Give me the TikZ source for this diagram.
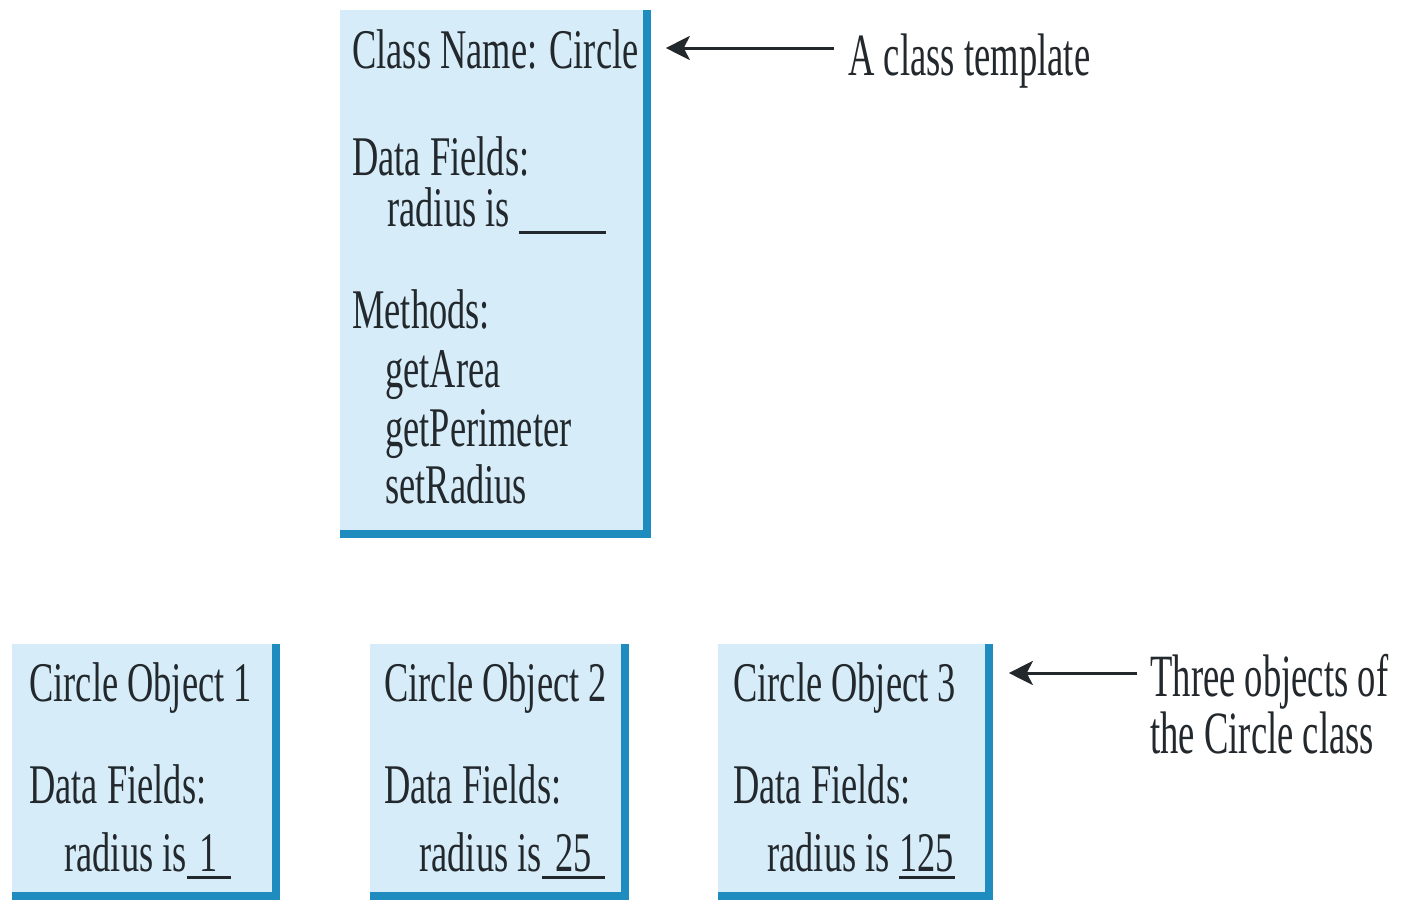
\documentclass[tikz,border=0pt]{standalone}
\usepackage{fontspec}
\setmainfont{Liberation Serif}[FakeStretch=0.65]
\newfontfamily\notefont{Liberation Serif}[FakeStretch=0.61]
\usetikzlibrary{arrows.meta, calc}
\definecolor{boxfill}{RGB}{214,237,249}
\definecolor{boxedge}{RGB}{30,140,190}
\definecolor{ink}{RGB}{35,40,45}
% value with a line under it
\newcommand{\fieldval}[2]{\makebox[#1][c]{#2}\llap{\rule[-4pt]{#1}{1.3pt}}}
\tikzset{
	objbox/.style={rectangle, fill=boxfill, inner sep=0pt, anchor=north west},
	txt/.style={anchor=base west, inner sep=0pt, text=ink, font=\fontsize{28}{30}\selectfont},
	note/.style={anchor=north west, inner sep=0pt, text=ink, align=left, font=\notefont\fontsize{30}{26.5}\selectfont},
	arr/.style={-{Stealth[length=12pt, width=12pt, inset=3pt]}, line width=1.5pt, draw=ink},
}

\begin{document}
\begin{tikzpicture}[x=0.5pt, y=-0.5pt]
		\useasboundingbox (0,0) rectangle (1405,901);
		
		% the class
		\node (cls) [objbox, minimum width=153pt, minimum height=261.5pt] at (340,10) {};
		\node (clsname) [txt] at ([shift={(12,58)}]cls.north west) {Class Name: Circle};
		\node (clsdata) [txt] at ([shift={(0,107)}]clsname.base west) {Data Fields:};
		\node (clsrad) [txt] at ([shift={(35,51)}]clsdata.base west) {radius is \fieldval{43.5pt}{}};
		\node (clsmeth) [txt] at ([shift={(0,153)}]clsdata.base west) {Methods:};
		\node (area) [txt] at ([shift={(33,59)}]clsmeth.base west) {getArea};
		\node (perim) [txt] at ([shift={(0,59)}]area.base west) {getPerimeter};
		\node (setrad) [txt] at ([shift={(0,57)}]perim.base west) {setRadius};
		
		% the objects
		\node (obj1) [objbox, minimum width=131.5pt, minimum height=125.5pt] at (12,644) {};
		\node (obj2) [objbox, minimum width=127pt, minimum height=125.5pt] at (370,644) {};
		\node (obj3) [objbox, minimum width=135pt, minimum height=125.5pt] at (718,644) {};
		
		\node (name1) [txt] at ([shift={(17,57)}]obj1.north west) {Circle Object 1};
		\node (data1) [txt] at ([shift={(0,102)}]name1.base west) {Data Fields:};
		\node (rad1) [txt] at ([shift={(35,68)}]data1.base west) {radius is\fieldval{22pt}{1}};
		
		\node (name2) [txt] at ([shift={(14,57)}]obj2.north west) {Circle Object 2};
		\node (data2) [txt] at ([shift={(0,102)}]name2.base west) {Data Fields:};
		\node (rad2) [txt] at ([shift={(35,68)}]data2.base west) {radius is\fieldval{31.5pt}{25}};
		
		\node (name3) [txt] at ([shift={(15,57)}]obj3.north west) {Circle Object 3};
		\node (data3) [txt] at ([shift={(0,102)}]name3.base west) {Data Fields:};
		\node (rad3) [txt] at ([shift={(34,68)}]data3.base west) {radius is \fieldval{28pt}{125}};
		
		\begin{scope}[draw=boxedge, line width=4pt]
			\draw (cls.north east) -- (cls.south east) -- (cls.south west);
			\draw (obj1.north east) -- (obj1.south east) -- (obj1.south west);
			\draw (obj2.north east) -- (obj2.south east) -- (obj2.south west);
			\draw (obj3.north east) -- (obj3.south east) -- (obj3.south west);
		\end{scope}
		
		% notes
		\node (tmpl) [note, anchor=base west] at (848,75) {A class template};
		\coordinate (tmplarr) at ([shift={(-14,-27)}]tmpl.base west);
		\node (objs) [note] at (1150,654) {Three objects of\\the Circle class};
		\coordinate (objsarr) at ([shift={(-13,19)}]objs.north west);
		
		\draw [arr, shorten >=9.5pt] (tmplarr) -- (cls.east |- tmplarr);
		\draw [arr, shorten >=10pt] (objsarr) -- (obj3.east |- objsarr);
	\end{tikzpicture}
\end{document}
